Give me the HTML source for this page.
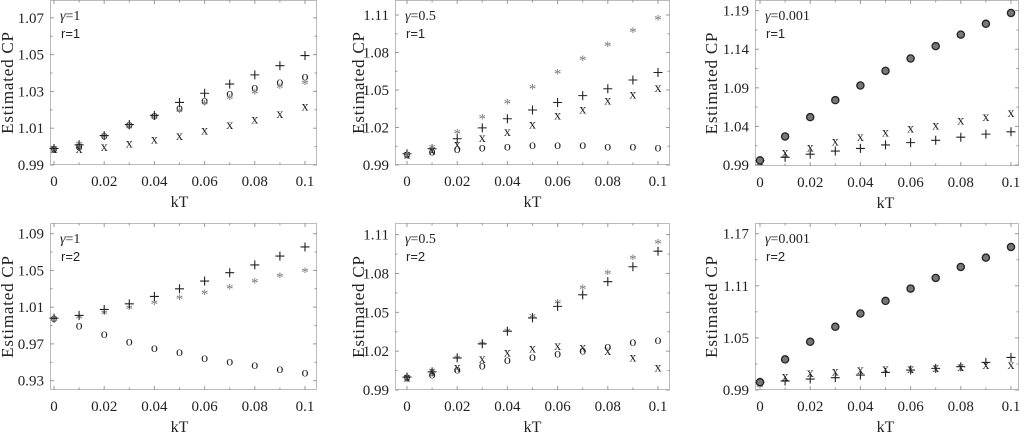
<!DOCTYPE html>
<html><head><meta charset="utf-8">
<style>
html,body{margin:0;padding:0;background:#fff;}
svg{display:block;}
</style></head>
<body>
<svg id="chart" width="1024" height="434" viewBox="0 0 1024 434" xmlns="http://www.w3.org/2000/svg"></svg>
<script>
// Shared category axis
const kT = [0,0.01,0.02,0.03,0.04,0.05,0.06,0.07,0.08,0.09,0.1];
const xTickLabels = ["0","0.02","0.04","0.06","0.08","0.1"];

// Panel 1: gamma=1, r=1
const p1Plus = [0.999,1.001,1.006,1.012,1.017,1.024,1.029,1.034,1.039,1.044,1.0495];
const p1O    = [0.999,1.000,1.006,1.012,1.017,1.021,1.025,1.029,1.032,1.035,1.038];
const p1Star = [0.999,1.002,1.006,1.011,1.016,1.020,1.024,1.027,1.030,1.033,1.035];
const p1X    = [0.999,0.999,1.000,1.002,1.004,1.006,1.009,1.012,1.015,1.018,1.022];
const p1Ticks = ["0.99","1.01","1.03","1.05","1.07"];
// Panel 2: gamma=0.5, r=1
const p2Star = [0.999,1.005,1.017,1.029,1.041,1.053,1.065,1.0755,1.087,1.098,1.108];
const p2Plus = [0.999,1.003,1.011,1.0197,1.027,1.034,1.040,1.0455,1.051,1.058,1.064];
const p2X    = [0.999,1.002,1.007,1.012,1.017,1.023,1.030,1.035,1.042,1.047,1.052];
const p2O    = [0.999,1.001,1.003,1.004,1.005,1.006,1.006,1.006,1.005,1.005,1.004];
const p2Ticks = ["0.99","1.02","1.05","1.08","1.11"];
// Panel 3: gamma=0.001, r=1
const p3O    = [0.996,1.027,1.052,1.074,1.093,1.112,1.128,1.144,1.159,1.173,1.187];
const p3X    = [0.996,1.007,1.013,1.021,1.027,1.033,1.038,1.042,1.048,1.053,1.058];
const p3Plus = [0.996,1.000,1.004,1.008,1.0115,1.016,1.019,1.022,1.026,1.030,1.033];
const p3Ticks = ["0.99","1.04","1.09","1.14","1.19"];
// Panel 4: gamma=1, r=2
const p4Plus = [0.998,1.001,1.0075,1.0136,1.0216,1.030,1.0384,1.0475,1.056,1.0656,1.0755];
const p4Star = [0.998,1.000,1.0045,1.010,1.0155,1.021,1.0264,1.0325,1.039,1.045,1.0507];
const p4O    = [0.998,0.990,0.981,0.9725,0.9656,0.961,0.9547,0.9507,0.947,0.9427,0.939];
const p4Ticks = ["0.93","0.97","1.01","1.05","1.09"];
// Panel 5: gamma=0.5, r=2
const p5Star = [1.000,1.0053,1.0155,1.0263,1.0365,1.0474,1.0582,1.0697,1.0811,1.0926,1.1049];
const p5Plus = [1.000,1.004,1.0148,1.0257,1.0354,1.0457,1.0546,1.0635,1.0737,1.0852,1.0972];
const p5X    = [1.000,1.0046,1.0079,1.0143,1.0194,1.0224,1.0245,1.0232,1.0206,1.0155,1.0079];
const p5O    = [1.000,1.002,1.0058,1.0091,1.013,1.0155,1.0181,1.0206,1.0237,1.027,1.0288];
const p5Ticks = ["0.99","1.02","1.05","1.08","1.11"];
// Panel 6: gamma=0.001, r=2
const p6O    = [0.999,1.0252,1.0455,1.0628,1.0781,1.0926,1.1068,1.119,1.1317,1.1424,1.1547];
const p6X    = [0.999,1.006,1.0103,1.0118,1.0137,1.0149,1.0149,1.0157,1.0168,1.0195,1.0195];
const p6Plus = [0.999,1.0003,1.0026,1.0042,1.0072,1.0103,1.013,1.0149,1.0168,1.0218,1.0275];
const p6Ticks = ["0.99","1.05","1.11","1.17"];

const NS = "http://www.w3.org/2000/svg";
const svg = document.getElementById("chart");
function mk(tag, attrs, parent){
  const e = document.createElementNS(NS, tag);
  for (const k in attrs) e.setAttribute(k, attrs[k]);
  (parent||svg).appendChild(e);
  return e;
}

const panels = [
  {box:[50,0,317,165], x0:54, x1:305, y:[0.99,1.0797], ticks:p1Ticks, ylab:7, g:"1", r:"1",
   series:[["o",p1O],["*",p1Star],["x",p1X],["+",p1Plus]]},
  {box:[395,0,670,165], x0:407, x1:658, y:[0.99,1.122], ticks:p2Ticks, ylab:358, g:"0.5", r:"1",
   series:[["o",p2O],["x",p2X],["+",p2Plus],["*",p2Star]]},
  {box:[755,0,1019,166], x0:760, x1:1011, y:[0.9887,1.2038], ticks:p3Ticks, ylab:711, g:"0.001", r:"1",
   series:[["x",p3X],["+",p3Plus],["O",p3O]]},
  {box:[50,223,317,390], x0:54, x1:305, y:[0.9198,1.1016], ticks:p4Ticks, ylab:7, g:"1", r:"2",
   series:[["o",p4O],["*",p4Star],["+",p4Plus]]},
  {box:[395,223,670,390], x0:407, x1:658, y:[0.99,1.119], ticks:p5Ticks, ylab:358, g:"0.5", r:"2",
   series:[["o",p5O],["x",p5X],["*",p5Star],["+",p5Plus]]},
  {box:[755,223,1019,390], x0:760, x1:1011, y:[0.99,1.1823], ticks:p6Ticks, ylab:711, g:"0.001", r:"2",
   series:[["x",p6X],["+",p6Plus],["O",p6O]]}
];

panels.forEach((p, pi) => {
  const [bl,bt,br,bb] = p.box;
  const g = mk("g", {});
  
  
  const sx = v => p.x0 + (v - 0) / 0.1 * (p.x1 - p.x0);
  const sy = v => bb - (v - p.y[0]) / (p.y[1] - p.y[0]) * (bb - bt);
  const frame = mk("rect", {x:bl+0.5, y:bt+0.5, width:br-bl-1, height:bb-bt-1, fill:"none", stroke:"#bbb", "stroke-width":1}, g);
  
  
  const tv = p.ticks.map(Number);
  const step = tv[1]-tv[0];
  for (let v = tv[0]-step; v <= p.y[1]+1e-9; v += step/2) {
    if (v < p.y[0]-1e-9) continue;
    const yy = sy(v);
    const major = tv.some(t => Math.abs(t-v) < 1e-6);
    const len = major ? 4 : 2.5;
    mk("line", {x1:bl, x2:bl+len, y1:yy, y2:yy, stroke:"#999"}, g);
    mk("line", {x1:br-len, x2:br, y1:yy, y2:yy, stroke:"#999"}, g);
  }
  p.ticks.forEach(t => {
    const tx = mk("text", {x:bl-6, y:sy(Number(t))+5, "text-anchor":"end", "font-size":15, fill:"#222", "font-family":"Liberation Serif, serif"}, g);
    tx.textContent = t;
    
    
  });
  kT.forEach((v,i) => {
    const xx = sx(v);
    const len = i%2===0 ? 4 : 2.5;
    mk("line", {x1:xx, x2:xx, y1:bb-len, y2:bb, stroke:"#999"}, g);
    mk("line", {x1:xx, x2:xx, y1:bt, y2:bt+len, stroke:"#999"}, g);
  });
  xTickLabels.forEach(t => {
    const tx = mk("text", {x:sx(Number(t)), y:bb+21, "text-anchor":"middle", "font-size":15, fill:"#222", "font-family":"Liberation Serif, serif"}, g);
    tx.textContent = t;
    
    
  });
  const xt = mk("text", {x:(p.x0+p.x1)/2, y:bb+42, "text-anchor":"middle", "font-size":16, fill:"#222", "font-family":"Liberation Serif, serif"}, g);
  xt.textContent = "kT";
  
  
  const yc = (bt+bb)/2;
  const yt = mk("text", {x:p.ylab+6, y:yc, "text-anchor":"middle", "font-size":17, fill:"#222", "font-family":"Liberation Serif, serif", "letter-spacing":"0.8", transform:`rotate(-90 ${p.ylab+6} ${yc})`}, g);
  yt.textContent = "Estimated  CP";
  yt.setAttribute('xml:space', 'preserve');
  
  
  const a1 = mk("text", {x:bl+10, y:bt+20, "font-size":14, fill:"#222", "font-family":"Liberation Serif, serif"}, g);
  a1.innerHTML = '<tspan font-style="italic">γ</tspan>=' + p.g;
  
  
  const a2 = mk("text", {x:bl+11, y:bt+38, "font-size":13, fill:"#222", "font-family":"Liberation Sans, sans-serif"}, g);
  a2.textContent = "r=" + p.r;
  
  
  p.series.forEach(([m, vals]) => {
    const sg = mk("g", {}, g);
    
    
    vals.forEach((v,i) => {
      const cx = sx(kT[i]), cy = sy(v);
      let el;
      if (m === "O") {
        el = mk("circle", {cx:cx, cy:cy, r:3.6, fill:"#777", stroke:"#222", "stroke-width":1.3}, sg);
      } else if (m === "+") {
        el = mk("path", {d:`M${cx-4.5} ${cy}H${cx+4.5}M${cx} ${cy-4.5}V${cy+4.5}`, stroke:"#222", "stroke-width":1.1, fill:"none"}, sg);
      } else if (m === "x") {
        el = mk("text", {x:cx, y:cy+4.5, "text-anchor":"middle", "font-size":14, fill:"#222", "font-family":"Liberation Serif, serif"}, sg);
        el.textContent = "x";
      } else if (m === "o") {
        el = mk("text", {x:cx, y:cy+4, "text-anchor":"middle", "font-size":14, fill:"#222", "font-family":"Liberation Serif, serif"}, sg);
        el.textContent = "o";
      } else {
        el = mk("text", {x:cx, y:cy+7, "text-anchor":"middle", "font-size":15, fill:"#777", "font-family":"Liberation Serif, serif"}, sg);
        el.textContent = "*";
      }
      
      
    });
  });
});
</script>
</body></html>
